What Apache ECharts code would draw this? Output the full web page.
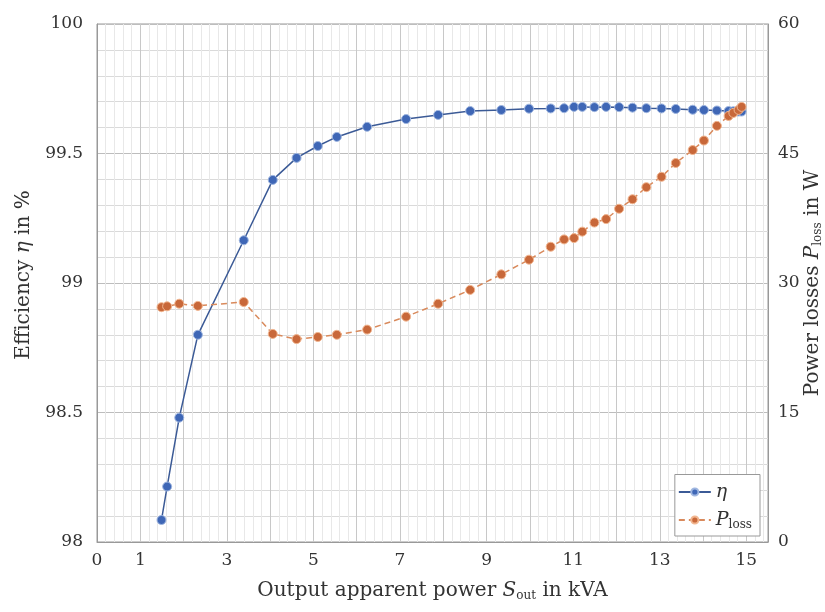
<!DOCTYPE html>
<html><head><meta charset="utf-8">
<script src="https://cdn.jsdelivr.net/npm/echarts@6/dist/echarts.min.js"></script>
<style>html,body{margin:0;padding:0;background:#fff}#c{width:825px;height:612px}</style>
</head><body><div id="c"></div>
<script>
// Output apparent power S_out in kVA (shared by both series)
const sOut = [1.49,1.62,1.90,2.33,3.39,4.06,4.61,5.10,5.54,6.24,7.14,7.88,8.62,9.34,9.98,10.48,10.79,11.02,11.21,11.49,11.76,12.06,12.37,12.69,13.04,13.37,13.76,14.02,14.32,14.59,14.70,14.82,14.89];
// Efficiency eta in %
const eta = [98.085,98.214,98.48,98.80,99.165,99.398,99.483,99.529,99.564,99.603,99.633,99.649,99.664,99.668,99.673,99.674,99.675,99.68,99.68,99.679,99.68,99.679,99.677,99.675,99.674,99.672,99.669,99.668,99.666,99.664,99.663,99.662,99.662];
// Power losses P_loss in W
const pLoss = [27.2,27.3,27.6,27.35,27.8,24.1,23.5,23.75,24.0,24.6,26.1,27.6,29.2,31.0,32.7,34.2,35.05,35.2,35.95,37.0,37.4,38.6,39.7,41.1,42.3,43.9,45.4,46.5,48.2,49.35,49.7,50.05,50.4];
// x tick labels that are shown
const xTickLabels = [0,1,3,5,7,9,11,13,15];

const FONT = 'DejaVu Serif';
const TXT = '#333';
const rich = {
  i: {fontFamily: FONT, fontStyle: 'italic', fontSize: 20, color: TXT},
  s: {fontFamily: FONT, fontSize: 12, color: TXT, padding: [10,0,0,0]}
};
const legendRich = {
  i: {fontFamily: FONT, fontStyle: 'italic', fontSize: 19, color: TXT},
  s: {fontFamily: FONT, fontSize: 12, color: TXT, padding: [10,0,0,0]}
};

const chart = echarts.init(document.getElementById('c'));
chart.setOption({
  animation: false,
  backgroundColor: '#fff',
  textStyle: {fontFamily: FONT},
  grid: {left: 97, right: 57, top: 24, bottom: 70, show: true, borderColor: '#999', borderWidth: 1,
    backgroundColor: 'transparent', outerBoundsMode: 'none', containLabel: false},
  legend: {
    orient: 'vertical', right: 65, bottom: 76,
    backgroundColor: '#fff', borderColor: '#999', borderWidth: 1,
    padding: [8, 8, 5, 3], itemGap: 9, itemWidth: 32, itemHeight: 9,
    data: ['eta', 'ploss'],
    formatter: n => n === 'eta' ? '{i|η}' : '{i|P}{s|loss}',
    textStyle: {rich: legendRich, fontFamily: FONT, fontSize: 19, color: TXT}
  },
  xAxis: {
    type: 'value', min: 0, max: 15.5, interval: 1,
    name: 'Output apparent power {i|S}{s|out} in kVA',
    nameLocation: 'middle', nameGap: 38,
    nameTextStyle: {fontFamily: FONT, fontSize: 20, color: TXT, rich: rich},
    axisLine: {show: true, lineStyle: {color: '#999'}},
    axisTick: {show: false},
    axisLabel: {fontFamily: FONT, fontSize: 17, color: TXT, margin: 10,
      formatter: v => xTickLabels.includes(v) ? String(v) : ''},
    splitLine: {show: true, lineStyle: {color: '#c8c8c8', width: 1}},
    minorTick: {show: false, splitNumber: 5},
    minorSplitLine: {show: true, lineStyle: {color: '#e8e8e8', width: 1}}
  },
  yAxis: [{
    type: 'value', min: 98, max: 100, interval: 0.5, position: 'left',
    name: 'Efficiency {i|η} in %',
    nameLocation: 'middle', nameGap: 59, nameRotate: 90,
    nameTextStyle: {fontFamily: FONT, fontSize: 20, color: TXT, rich: rich, padding: [0,0,0,16]},
    axisLine: {show: true, lineStyle: {color: '#999'}},
    axisTick: {show: false},
    axisLabel: {fontFamily: FONT, fontSize: 17, color: TXT, margin: 14},
    splitLine: {show: true, lineStyle: {color: '#bdbdbd', width: 1}},
    minorTick: {show: false, splitNumber: 5},
    minorSplitLine: {show: true, lineStyle: {color: '#dadada', width: 1}}
  }, {
    type: 'value', min: 0, max: 60, interval: 15, position: 'right',
    name: 'Power losses {i|P}{s|loss} in W',
    nameLocation: 'middle', nameGap: 34, nameRotate: 90, nameMoveOverlap: false,
    nameTextStyle: {fontFamily: FONT, fontSize: 20, color: TXT, rich: rich},
    axisLine: {show: true, lineStyle: {color: '#999'}},
    axisTick: {show: false},
    axisLabel: {fontFamily: FONT, fontSize: 17, color: TXT, margin: 10},
    splitLine: {show: false}
  }],
  series: [{
    name: 'eta', type: 'line', yAxisIndex: 0,
    data: sOut.map((x, i) => [x, eta[i]]),
    symbol: 'circle', symbolSize: 9,
    itemStyle: {color: '#3f67b6', borderColor: '#9fb6e0', borderWidth: 1},
    lineStyle: {color: '#3b5a96', width: 1.5, type: 'solid'},
    z: 3
  }, {
    name: 'ploss', type: 'line', yAxisIndex: 1,
    data: sOut.map((x, i) => [x, pLoss[i]]),
    symbol: 'circle', symbolSize: 9,
    itemStyle: {color: '#c8683a', borderColor: '#f2b690', borderWidth: 1},
    lineStyle: {color: '#d98a5c', width: 1.5, type: [6, 4]},
    z: 4
  }]
});
</script></body></html>
